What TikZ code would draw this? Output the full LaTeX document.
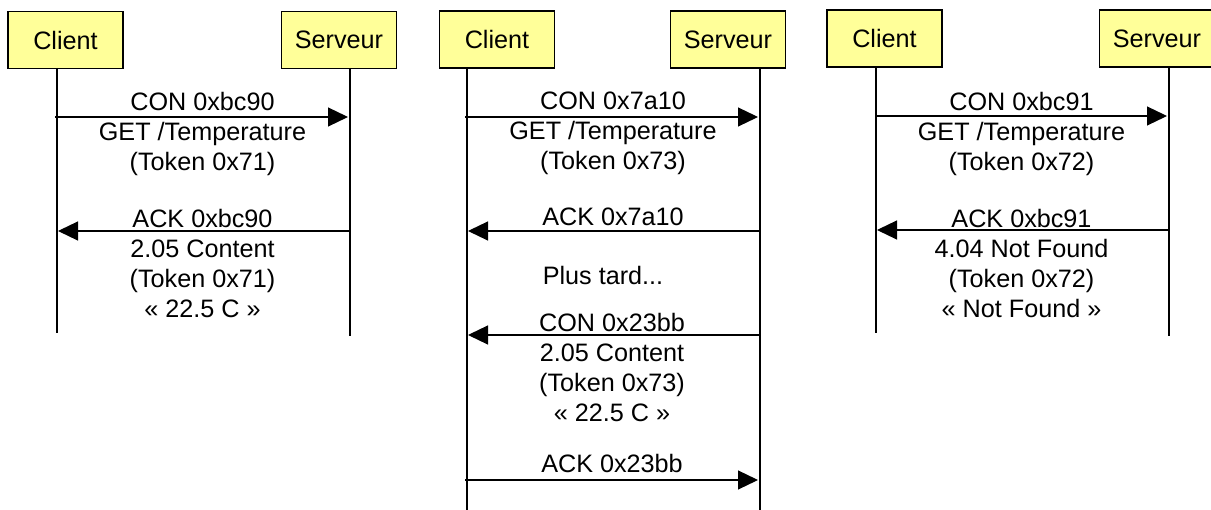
\documentclass[tikz,border=0pt]{standalone}
\usepackage{fontspec}
\setmainfont{Liberation Sans}
\usetikzlibrary{arrows.meta}
\definecolor{boxyellow}{HTML}{FFFF99}

\begin{document}
\begin{tikzpicture}[x=1pt,y=-1pt,
  every node/.style={inner sep=0pt,font=\fontsize{25.2}{29.9}\selectfont},
  actor/.style={draw=black,line width=1.3pt,fill=boxyellow,minimum width=115pt,minimum height=57pt},
  life/.style={line width=1.1pt},
  msg/.style={line width=1.2pt,-{Triangle[length=20pt,width=19pt]}},
  lbl/.style={align=center,anchor=north}]
\useasboundingbox (0,0) rectangle (1211,510);
% first exchange
\node [actor] (client1) at (65.5,40) {Client};
\node [actor] (serveur1) at (339,40) {Serveur};
\coordinate (c1top) at (57,68);
\coordinate (c1bot) at (57,333);
\coordinate (s1top) at (350,68);
\coordinate (s1bot) at (350,336);
\draw [life] (c1top) -- (c1bot);
\draw [life] (s1top) -- (s1bot);
\coordinate (m11a) at (55,117);
\coordinate (m11b) at (348,117);
\draw [msg] (m11a) -- (m11b);
\node [lbl] (get1) at (202.5,92) {CON 0xbc90\\GET /Temperature\\(Token 0x71)};
\coordinate (m12a) at (350,231);
\coordinate (m12b) at (58,231);
\draw [msg] (m12a) -- (m12b);
\node [lbl] (rep1) at (202.5,209) {ACK 0xbc90\\2.05 Content\\(Token 0x71)\\« 22.5 C »};
% second exchange
\node [actor] (client2) at (497,39.5) {Client};
\node [actor] (serveur2) at (728,39.5) {Serveur};
\coordinate (c2top) at (467,68);
\coordinate (c2bot) at (467,512);
\coordinate (s2top) at (760,68);
\coordinate (s2bot) at (760,512);
\draw [life] (c2top) -- (c2bot);
\draw [life] (s2top) -- (s2bot);
\coordinate (m21a) at (465,117);
\coordinate (m21b) at (758,117);
\draw [msg] (m21a) -- (m21b);
\node [lbl] (get2) at (613,92) {CON 0x7a10\\GET /Temperature\\(Token 0x73)};
\coordinate (m22a) at (760,231);
\coordinate (m22b) at (468,231);
\draw [msg] (m22a) -- (m22b);
\node [lbl] (ack2) at (613,208) {ACK 0x7a10};
\node [lbl] (tard) at (603,266) {Plus tard...};
\coordinate (m23a) at (760,335);
\coordinate (m23b) at (468,335);
\draw [msg] (m23a) -- (m23b);
\node [lbl] (obs2) at (612,313) {CON 0x23bb\\2.05 Content\\(Token 0x73)\\« 22.5 C »};
\coordinate (m24a) at (465,480);
\coordinate (m24b) at (758,480);
\draw [msg] (m24a) -- (m24b);
\node [lbl] (ackobs2) at (612,454) {ACK 0x23bb};
% third exchange
\node [actor] (client3) at (884.5,38.5) {Client};
\node [actor] (serveur3) at (1157,38.5) {Serveur};
\coordinate (c3top) at (876,67);
\coordinate (c3bot) at (876,333);
\coordinate (s3top) at (1169,67);
\coordinate (s3bot) at (1169,336);
\draw [life] (c3top) -- (c3bot);
\draw [life] (s3top) -- (s3bot);
\coordinate (m31a) at (875,116);
\coordinate (m31b) at (1167,116);
\draw [msg] (m31a) -- (m31b);
\node [lbl] (get3) at (1021.5,92) {CON 0xbc91\\GET /Temperature\\(Token 0x72)};
\coordinate (m32a) at (1169,230);
\coordinate (m32b) at (877,230);
\draw [msg] (m32a) -- (m32b);
\node [lbl] (rep3) at (1021.5,209) {ACK 0xbc91\\4.04 Not Found\\(Token 0x72)\\« Not Found »};
\end{tikzpicture}
\end{document}
